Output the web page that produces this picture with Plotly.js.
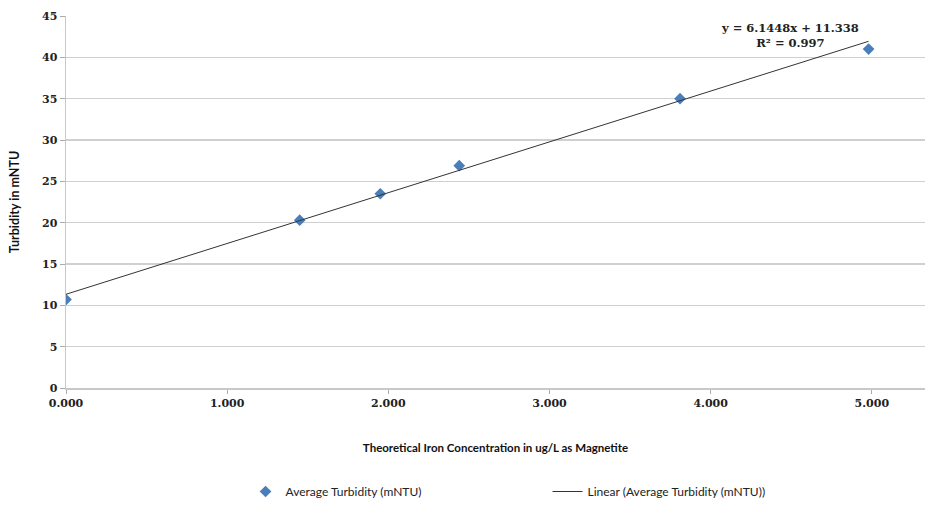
<!DOCTYPE html>
<html>
<head>
<meta charset="utf-8">
<script src="https://cdn.plot.ly/plotly-3.0.1.min.js"></script>
<style>html,body{margin:0;padding:0;background:#fff;}#chart{width:925px;height:506px;}</style>
</head>
<body>
<div id="chart"></div>
<script>
// Data
const ironConc = [0.000, 1.45, 1.95, 2.44, 3.81, 4.98];
const avgTurbidity = [10.7, 20.3, 23.5, 26.9, 35.0, 41.0];
const trendSlope = 6.1448;
const trendIntercept = 11.338;
const trendR2 = 0.997;
const xTicks = [0, 1, 2, 3, 4, 5];
const xTickLabels = ["0.000", "1.000", "2.000", "3.000", "4.000", "5.000"];
const yTicks = [0, 5, 10, 15, 20, 25, 30, 35, 40, 45];

const xMin = Math.min(...ironConc), xMax = Math.max(...ironConc);
const trendX = [xMin, xMax];
const trendY = trendX.map(v => trendSlope * v + trendIntercept);

const tickFont = {family: "DejaVu Serif, Liberation Serif, serif", size: 11, color: "#222", weight: "bold"};
const titleFont = {family: "Lato, Open Sans, sans-serif", size: 11.5, color: "#111", weight: "bold"};

const traces = [
  {
    x: ironConc, y: avgTurbidity, type: "scatter", mode: "markers",
    name: "Average Turbidity (mNTU)",
    marker: {symbol: "diamond", size: 9, color: "#4a7ebb"}
  },
  {
    x: trendX, y: trendY, type: "scatter", mode: "lines",
    name: "Linear (Average Turbidity (mNTU))",
    line: {color: "#333", width: 1}
  }
];

const layout = {
  width: 925, height: 506,
  margin: {l: 66, r: 0, t: 16, b: 117},
  paper_bgcolor: "#fff", plot_bgcolor: "#fff",
  showlegend: true,
  legend: {
    orientation: "h", x: 0.209, xanchor: "left", y: -0.279, yanchor: "middle",
    font: {family: "Lato, Open Sans, sans-serif", size: 12, color: "#222"},
    entrywidth: 257, entrywidthmode: "pixels"
  },
  xaxis: {
    range: [0, 5.33], tickvals: xTicks, ticktext: xTickLabels,
    showgrid: false, zeroline: false, showline: true, linecolor: "#c8c8c8", linewidth: 1.5,
    ticks: "outside", ticklen: 4, tickcolor: "#aaa",
    tickfont: tickFont,
    title: {text: "Theoretical Iron Concentration in ug/L as Magnetite", font: titleFont, standoff: 35}
  },
  yaxis: {
    range: [0, 45], tickvals: yTicks,
    showgrid: true, gridcolor: "#d0d0d0", gridwidth: 1.5, zeroline: false,
    showline: true, linecolor: "#c8c8c8", linewidth: 1.5,
    ticks: "outside", ticklen: 5, tickcolor: "#aaa",
    tickfont: tickFont,
    title: {text: "Turbidity in mNTU", font: {family: "Lato, Open Sans, sans-serif", size: 12.5, color: "#111", weight: "bold"}, standoff: 19}
  },
  annotations: [
    {
      x: 4.49, y: 42.6, xref: "x", yref: "y", showarrow: false, align: "center",
      text: "y = " + trendSlope + "x + " + trendIntercept + "<br>R² = " + trendR2,
      font: {family: "DejaVu Serif, Liberation Serif, serif", size: 11.5, color: "#222", weight: "bold"}
    }
  ]
};

Plotly.newPlot("chart", traces, layout, {displayModeBar: false, staticPlot: true});
</script>
</body>
</html>
